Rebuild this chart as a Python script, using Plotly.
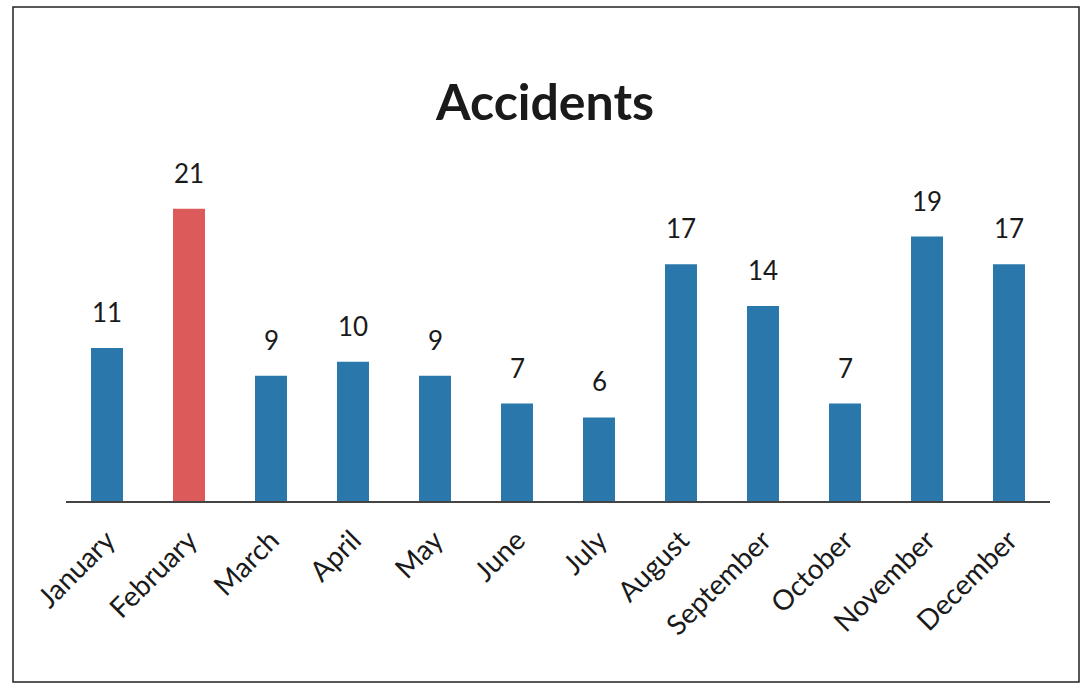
import plotly.graph_objects as go

months = ["January", "February", "March", "April", "May", "June", "July",
          "August", "September", "October", "November", "December"]
accidents = [11, 21, 9, 10, 9, 7, 6, 17, 14, 7, 19, 17]
highlight = "February"

BLUE = "#2a78ab"
RED = "#dc5a5a"
colors = [RED if m == highlight else BLUE for m in months]

W, H = 1081, 685
L, R, T, B = 66, 31, 153, 184
pw, ph = W - L - R, H - T - B
FONT = "Lato, Open Sans, sans-serif"

fig = go.Figure()
fig.add_trace(go.Bar(
    x=months, y=accidents,
    marker=dict(color=colors, line=dict(width=0)),
    width=0.39,
    hoverinfo="x+y",
))

for m, v in zip(months, accidents):
    fig.add_annotation(x=m, y=v, text=str(v), showarrow=False,
                       yanchor="bottom", yshift=18,
                       font=dict(family=FONT, size=26, color="#1a1a1a"))

def px(xp):
    return (xp - L) / pw

def py(yp):
    return (H - B - yp) / ph

fig.add_shape(type="rect", xref="paper", yref="paper",
              x0=px(13), x1=px(1079), y0=py(682), y1=py(7),
              line=dict(color="#222222", width=1.5), fillcolor="rgba(0,0,0,0)", layer="below")

fig.update_layout(
    width=W, height=H,
    margin=dict(l=L, r=R, t=T, b=B),
    paper_bgcolor="white", plot_bgcolor="white",
    showlegend=False,
    title=dict(text="<b>Accidents</b>", x=px(545), xref="paper", xanchor="center",
               y=1 - 102 / H, yanchor="middle", yref="container",
               font=dict(family=FONT, size=50, color="#1a1a1a")),
    xaxis=dict(showline=True, linecolor="#444444", linewidth=1.5,
               ticks="", tickangle=-45, ticklabelstandoff=10,
               tickfont=dict(family=FONT, size=28, color="#1a1a1a"),
               showgrid=False, fixedrange=True),
    yaxis=dict(range=[0, 25], visible=False, showgrid=False, fixedrange=True),
)

fig.write_html("out.html", config={"displayModeBar": False},
               post_script="document.body.style.margin='0';document.body.style.overflow='hidden';")
